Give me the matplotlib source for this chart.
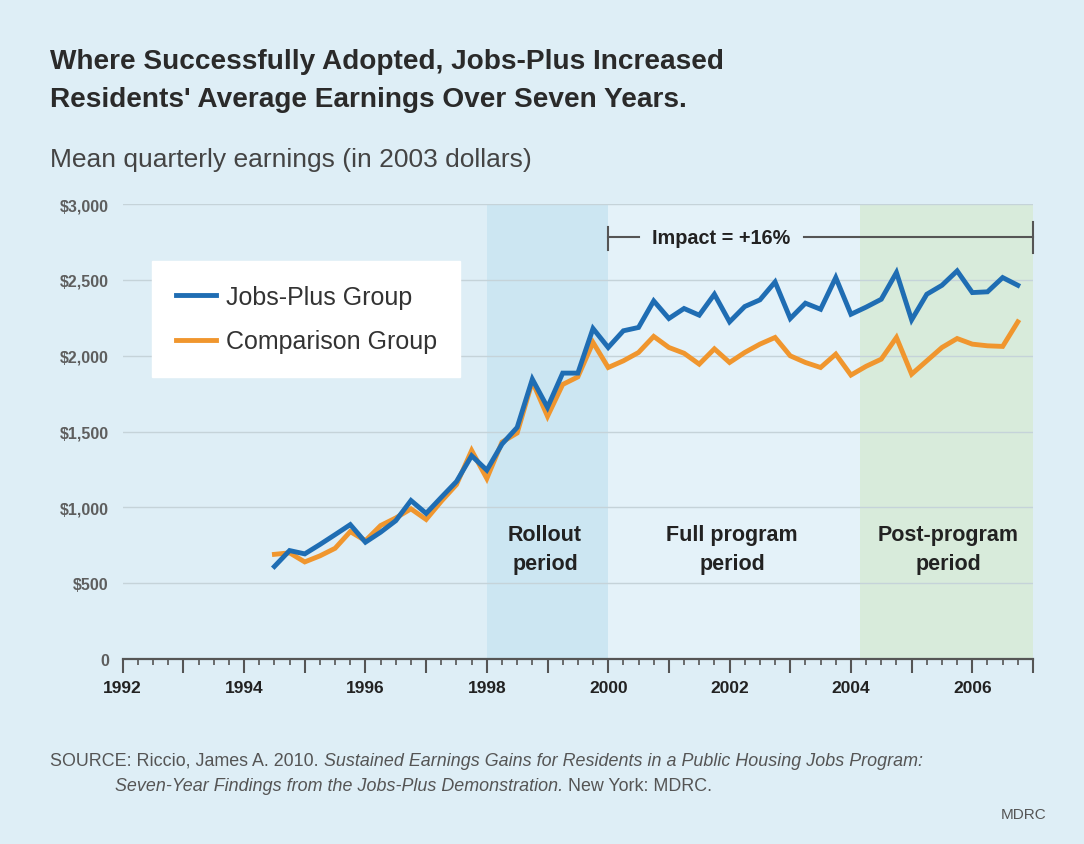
import matplotlib.pyplot as plt
from matplotlib.ticker import MultipleLocator, FuncFormatter

plt.rcParams['font.family'] = ['Liberation Sans', 'DejaVu Sans']

# quarterly data, 1994 Q3 .. 2006 Q4
quarters = [1994.5 + 0.25 * i for i in range(50)]
jobs_plus = [610, 715, 693, 755, 820, 886, 770, 836, 912, 1045,
             960, 1066, 1170, 1340, 1245, 1417, 1527, 1845, 1659, 1885,
             1885, 2179, 2054, 2164, 2186, 2361, 2245, 2311, 2267, 2405,
             2223, 2324, 2368, 2486, 2245, 2346, 2306, 2515, 2273, 2320,
             2372, 2548, 2236, 2405, 2464, 2559, 2416, 2421, 2515, 2464]
comparison = [690, 700, 640, 680, 730, 840, 780, 880, 930, 990,
              920, 1040, 1150, 1375, 1190, 1430, 1490, 1830, 1600, 1810,
              1860, 2087, 1922, 1966, 2021, 2127, 2054, 2016, 1944, 2045,
              1955, 2021, 2076, 2120, 1999, 1955, 1922, 2010, 1872, 1930,
              1977, 2120, 1878, 1966, 2054, 2113, 2076, 2065, 2061, 2223]

rollout = (1998, 2000)
post_program = (2004.15, 2007)
impact_span = (2000, 2007)
impact_label = 'Impact = +16%'

bg = '#deeef6'
blue = '#1f6db3'
orange = '#f0962e'
dark = '#333333'

fig = plt.figure(figsize=(10.84, 8.45), dpi=100, facecolor=bg)
ax = fig.add_axes([122.7 / 1084, 1 - 660 / 845, (1033 - 122.7) / 1084, (660 - 205) / 845])
ax.set_facecolor(bg)

ax.axvspan(*rollout, color='#cce6f2', zorder=0, lw=0)
ax.axvspan(rollout[1], post_program[0], color='#e4f2f9', zorder=0, lw=0)
ax.axvspan(*post_program, color='#d8ebdb', zorder=0, lw=0)

ax.plot(quarters, comparison, color=orange, lw=3.5, zorder=3, label='Comparison Group',
        solid_joinstyle='miter')
ax.plot(quarters, jobs_plus, color=blue, lw=3.5, zorder=4, label='Jobs-Plus Group',
        solid_joinstyle='miter')

ax.set_xlim(1992, 2007)
ax.set_ylim(0, 3000)

for s in ['top', 'right', 'left']:
    ax.spines[s].set_visible(False)
ax.spines['bottom'].set_color('#555555')
ax.spines['bottom'].set_linewidth(1.6)

ax.xaxis.set_major_locator(MultipleLocator(1))
ax.xaxis.set_minor_locator(MultipleLocator(0.25))
ax.xaxis.set_major_formatter(FuncFormatter(lambda v, p: f'{int(round(v))}' if int(round(v)) % 2 == 0 else ''))
ax.tick_params(axis='x', which='major', length=10, width=1.5, color='#555555',
               labelsize=12.5, labelcolor='#222222', pad=5)
ax.tick_params(axis='x', which='minor', length=4, width=1.2, color='#555555')
for lab in ax.get_xticklabels():
    lab.set_fontweight('bold')

ax.yaxis.set_major_locator(MultipleLocator(500))
ax.yaxis.set_major_formatter(FuncFormatter(lambda v, p: '0' if v == 0 else f'${int(v):,}'))
ax.tick_params(axis='y', length=0, labelsize=11.5, labelcolor='#5e5e5e', pad=10)
for lab in ax.get_yticklabels():
    lab.set_fontweight('bold')
ax.grid(axis='y', color='#c5d3d9', lw=1)
ax.set_axisbelow(True)

# legend
handles, labels = ax.get_legend_handles_labels()
leg = ax.legend(handles[::-1], labels[::-1], loc='upper left', bbox_to_anchor=(0.032, 0.875),
                borderaxespad=0, fontsize=18, frameon=True, fancybox=False,
                handlelength=1.6, handletextpad=0.4, borderpad=0.95, labelspacing=0.83)
leg.get_frame().set_facecolor('white')
leg.get_frame().set_edgecolor('white')
leg.get_frame().set_alpha(1)
for t in leg.get_texts():
    t.set_color(dark)

# period labels
lbl_kw = dict(ha='center', va='center', fontsize=15.5, fontweight='bold',
              color='#222222', linespacing=1.45)
ax.text(1998.96, 725, 'Rollout\nperiod', **lbl_kw)
ax.text(2002.04, 725, 'Full program\nperiod', **lbl_kw)
ax.text(2005.6, 725, 'Post-program\nperiod', **lbl_kw)

# impact bracket
iy = 2782
ax.plot([impact_span[0], impact_span[0]], [2700, 2850], color='#555555', lw=1.5, clip_on=False)
ax.plot([impact_span[1], impact_span[1]], [2680, 2880], color='#555555', lw=1.5, clip_on=False)
ax.plot([impact_span[0], 2000.5], [iy, iy], color='#555555', lw=1.5, clip_on=False)
ax.plot([2003.22, impact_span[1]], [iy, iy], color='#555555', lw=1.5, clip_on=False)
ax.text(2001.86, iy, impact_label, ha='center', va='center', fontsize=14.3,
        fontweight='bold', color='#222222')

# titles
fig.text(50 / 1084, 1 - 62 / 845, 'Where Successfully Adopted, Jobs-Plus Increased',
         fontsize=20.2, fontweight='bold', color='#2a2a2a', va='center')
fig.text(50 / 1084, 1 - 100 / 845, "Residents' Average Earnings Over Seven Years.",
         fontsize=20.2, fontweight='bold', color='#2a2a2a', va='center')
fig.text(50 / 1084, 1 - 160 / 845, 'Mean quarterly earnings (in 2003 dollars)',
         fontsize=19, color='#444444', va='center')

# source
src_kw = dict(fontsize=12.9, color='#555555', va='bottom')
t1 = fig.text(50 / 1084, 1 - 770 / 845, 'SOURCE: Riccio, James A. 2010. ', **src_kw)
ax.annotate('Sustained Earnings Gains for Residents in a Public Housing Jobs Program:',
            xy=(1, 0), xycoords=t1, style='italic', annotation_clip=False, **src_kw)
t2 = fig.text(115 / 1084, 1 - 795 / 845,
              'Seven-Year Findings from the Jobs-Plus Demonstration.', style='italic', **src_kw)
ax.annotate(' New York: MDRC.', xy=(1, 0), xycoords=t2, annotation_clip=False, **src_kw)
fig.text(1047 / 1084, 1 - 815 / 845, 'MDRC', fontsize=11, color='#555555',
         ha='right', va='center')

plt.savefig('out.png', dpi=100, facecolor=bg)
